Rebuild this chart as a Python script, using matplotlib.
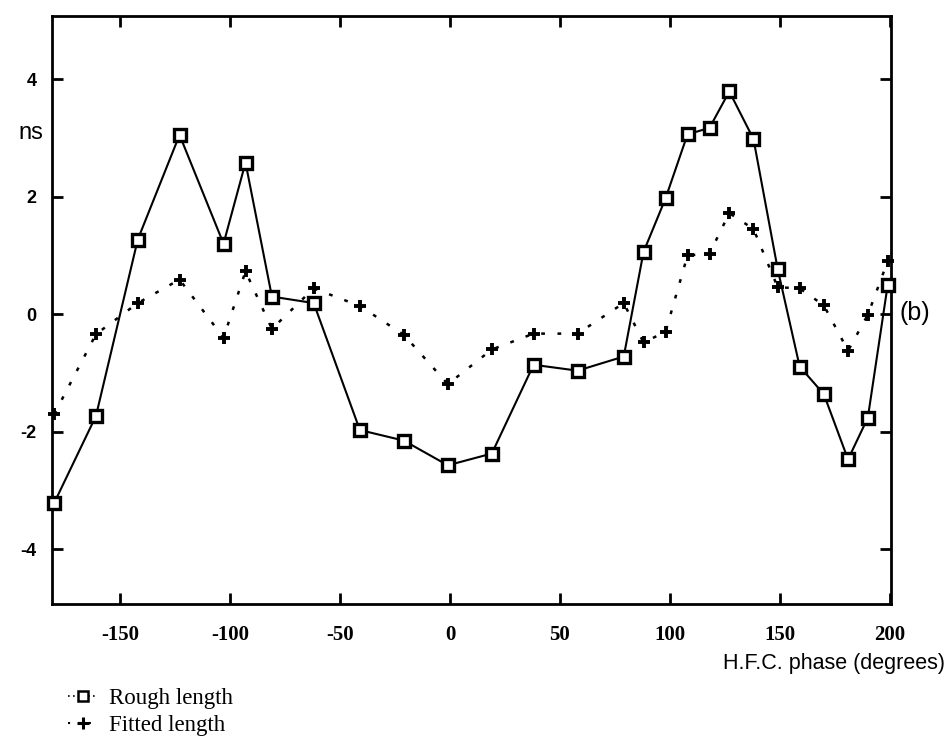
import matplotlib
matplotlib.use("Agg")
import matplotlib.pyplot as plt
from matplotlib.lines import Line2D

phase = [-180, -161, -142, -123, -103, -93, -81, -62, -41, -21, -1, 19, 38, 58,
         79, 88, 98, 108, 118, 127, 138, 149, 159, 170, 181, 190, 199]
rough = [-3.21, -1.73, 1.27, 3.05, 1.20, 2.58, 0.30, 0.19, -1.97, -2.15, -2.57,
         -2.37, -0.86, -0.96, -0.72, 1.06, 1.97, 3.06, 3.17, 3.79, 2.98, 0.77,
         -0.89, -1.36, -2.47, -1.76, 0.49]
fitted = [-1.70, -0.34, 0.19, 0.59, -0.40, 0.73, -0.25, 0.44, 0.14, -0.35, -1.19,
          -0.60, -0.33, -0.33, 0.19, -0.48, -0.30, 1.00, 1.03, 1.72, 1.45, 0.46,
          0.44, 0.15, -0.62, -0.01, 0.90]
xticks = [-150, -100, -50, 0, 50, 100, 150, 200]
yticks = [-4, -2, 0, 2, 4]
labels = ["Rough length", "Fitted length"]

fig = plt.figure(figsize=(9.49, 7.36), dpi=100)
ax = fig.add_axes([0.0548, 0.1793, 0.884, 0.7987])

ax.plot(phase, rough, color="black", lw=1.5, marker="s", ms=8.5,
        mfc="white", mec="black", mew=2.4, clip_on=False, zorder=3)
ax.plot(phase, fitted, color="black", lw=1.8, linestyle=(0, (1.5, 5)),
        marker="+", ms=9, mew=2.8, clip_on=False, zorder=3)

ax.set_xlim(-181, 200.5)
ax.set_ylim(-4.93, 5.07)
ax.set_xticks(xticks)
ax.set_yticks(yticks)
ax.set_xticklabels([str(t) for t in xticks],
                   fontfamily="Liberation Serif", fontweight="bold", fontsize=15)
ax.set_yticklabels([str(t) for t in yticks],
                   fontfamily="Liberation Sans", fontweight="bold", fontsize=13)
ax.tick_params(direction="in", length=8, width=2, top=True, right=True,
               labelright=False, labeltop=False)
ax.tick_params(axis="x", pad=15)
ax.tick_params(axis="y", pad=11)
for s in ax.spines.values():
    s.set_linewidth(2)

fig.text(0.033, 0.819, "ns", fontfamily="Liberation Sans", fontsize=17,
         ha="center", va="center")
fig.text(0.9645, 0.575, "(b)", fontfamily="Liberation Sans", fontsize=18,
         ha="center", va="center")
fig.text(0.996, 0.098, "H.F.C. phase (degrees)", fontfamily="Liberation Sans",
         fontsize=15.5, ha="right", va="center")

handles = [
    Line2D([], [], color="black", lw=1.2, linestyle=(0, (1, 2)), marker="s",
           ms=7, mfc="white", mec="black", mew=1.8),
    Line2D([], [], color="black", lw=1.5, linestyle=(0, (1, 4)), marker="+",
           ms=9, mew=2.2),
]
fig.legend(handles, labels, loc="center left", bbox_to_anchor=(0.05, 0.033),
           frameon=False, handlelength=1.3, handletextpad=0.5, labelspacing=0.25,
           prop={"family": "Liberation Serif", "size": 16.5})

fig.savefig("out.png", dpi=100)
